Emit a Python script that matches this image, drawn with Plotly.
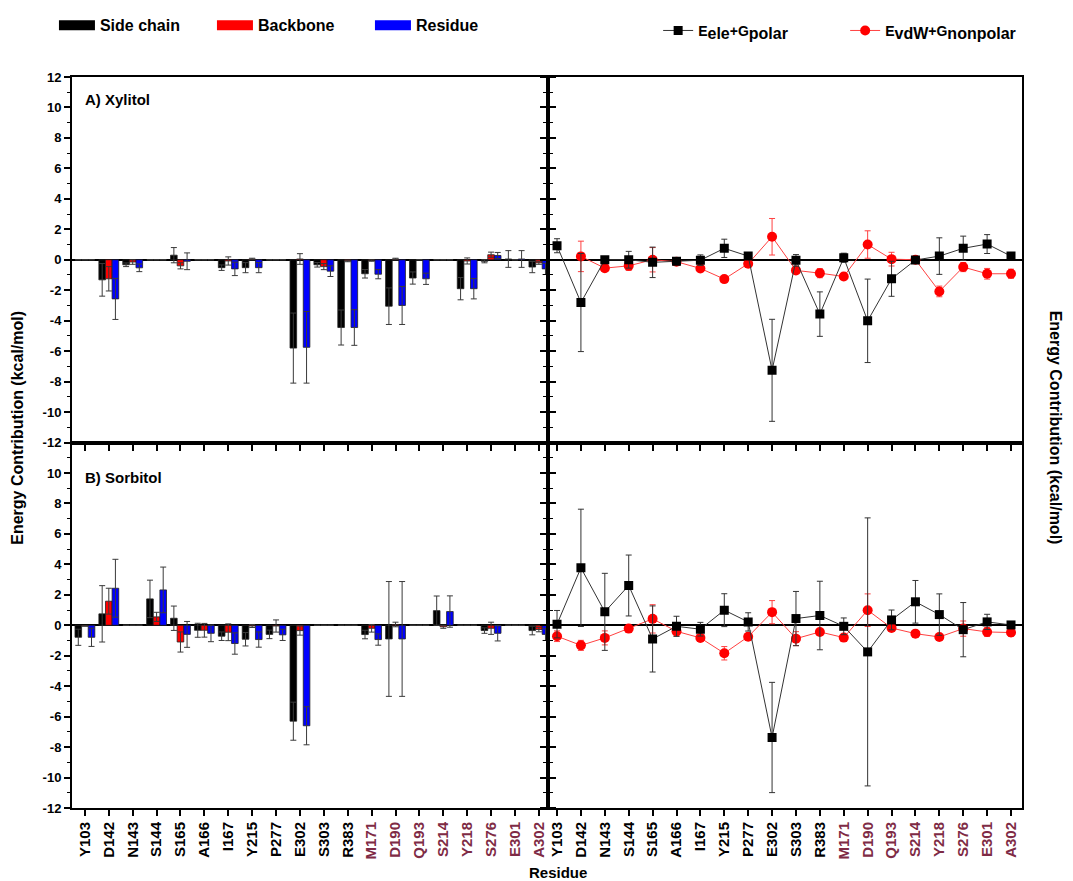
import plotly.graph_objects as go

residues = ["Y103", "D142", "N143", "S144", "S165", "A166", "I167", "Y215", "P277", "E302",
            "S303", "R383", "M171", "D190", "Q193", "S214", "Y218", "S276", "E301", "A302"]
n_site1 = 12  # residues drawn in black; the rest in maroon

# ---- A) Xylitol: per-residue decomposition (bars) ----
xyl_side = [0, -1.32, -0.33, 0, 0.30, 0, -0.52, -0.52, 0, -5.80, -0.33, -4.45, -0.92, -3.05, -1.20, 0, -1.90, -0.10, 0.05, -0.48]
xyl_side_err = [0, 1.07, 0.12, 0, 0.50, 0, 0.18, 0.33, 0, 2.30, 0.15, 1.15, 0.28, 1.20, 0.40, 0, 0.73, 0.10, 0.55, 0.37]
xyl_back = [0, -1.25, -0.15, 0, -0.40, 0, -0.08, 0.05, 0, 0.05, -0.45, -0.08, -0.05, 0.05, 0, 0, -0.08, 0.33, 0, -0.20]
xyl_back_err = [0, 0.80, 0.15, 0, 0.20, 0, 0.27, 0.05, 0, 0.35, 0.20, 0.05, 0.05, 0.05, 0, 0, 0.20, 0.17, 0, 0.10]
xyl_res = [0, -2.57, -0.53, 0, -0.10, 0, -0.60, -0.52, 0, -5.75, -0.75, -4.45, -0.95, -3.00, -1.25, 0, -1.90, 0.28, 0.05, -0.60]
xyl_res_err = [0, 1.35, 0.25, 0, 0.55, 0, 0.44, 0.33, 0, 2.35, 0.35, 1.17, 0.30, 1.25, 0.37, 0, 0.67, 0.20, 0.55, 0.37]

# ---- B) Sorbitol: per-residue decomposition (bars) ----
sor_side = [-0.79, 0.75, 0, 1.73, 0.46, -0.33, -0.72, -0.92, -0.60, -6.30, 0, 0, -0.61, -0.90, 0, 0.96, 0, -0.35, 0, -0.35]
sor_side_err = [0.53, 1.85, 0, 1.23, 0.80, 0.46, 0.28, 0.44, 0.28, 1.25, 0, 0, 0.28, 3.77, 0, 0.96, 0, 0.18, 0, 0.28]
sor_back = [-0.05, 1.58, 0, 0.55, -1.10, -0.33, -0.46, -0.05, -0.05, -0.35, 0, 0, -0.20, 0.05, 0, -0.10, 0, -0.20, 0, -0.28]
sor_back_err = [0, 0.85, 0, 0.30, 0.66, 0.45, 0.55, 0.10, 0.40, 0.30, 0, 0, 0.25, 0.15, 0, 0.10, 0, 0.40, 0, 0.15]
sor_res = [-0.79, 2.43, 0, 2.32, -0.60, -0.53, -1.20, -0.94, -0.63, -6.60, 0, 0, -0.94, -0.90, 0, 0.90, 0, -0.53, 0, -0.60]
sor_res_err = [0.60, 1.90, 0, 1.50, 0.85, 0.55, 0.70, 0.50, 0.37, 1.25, 0, 0, 0.37, 3.77, 0, 1.03, 0, 0.50, 0, 0.40]

# ---- energy components (lines) ----
xyl_polar = [0.92, -2.81, 0.0, 0.0, -0.17, -0.10, -0.03, 0.75, 0.24, -7.26, -0.04, -3.57, 0.13, -4.01, -1.25, -0.02, 0.24, 0.75, 1.03, 0.24]
xyl_polar_err = [0.46, 3.22, 0.15, 0.55, 1.00, 0.15, 0.35, 0.60, 0.10, 3.35, 0.38, 1.46, 0.30, 2.74, 1.15, 0.10, 1.20, 0.80, 0.62, 0.10]
xyl_nonpolar = [None, 0.22, -0.55, -0.40, 0.0, -0.13, -0.57, -1.27, -0.26, 1.51, -0.70, -0.88, -1.10, 1.00, 0.04, 0.0, -2.08, -0.48, -0.92, -0.92]
xyl_nonpolar_err = [0, 1.00, 0.10, 0.30, 0.80, 0.10, 0.20, 0.10, 0.10, 1.20, 0.15, 0.30, 0.10, 0.90, 0.45, 0.05, 0.35, 0.30, 0.35, 0.30]
sor_polar = [0.07, 3.77, 0.88, 2.61, -0.90, -0.07, -0.26, 0.99, 0.22, -7.37, 0.44, 0.64, -0.07, -1.75, 0.35, 1.54, 0.70, -0.29, 0.22, 0.02]
sor_polar_err = [0.90, 3.85, 2.53, 2.00, 2.17, 0.66, 0.45, 1.08, 0.60, 3.62, 1.78, 2.25, 0.55, 8.80, 0.65, 1.40, 1.36, 1.78, 0.50, 0.10]
sor_nonpolar = [-0.72, -1.32, -0.83, -0.22, 0.42, -0.40, -0.83, -1.84, -0.75, 0.86, -0.88, -0.44, -0.81, 0.99, -0.18, -0.55, -0.77, -0.22, -0.44, -0.48]
sor_nonpolar_err = [0.35, 0.33, 0.46, 0.10, 0.93, 0.30, 0.10, 0.44, 0.20, 0.76, 0.46, 0.10, 0.10, 1.07, 0.20, 0.10, 0.10, 0.50, 0.30, 0.25]

MAROON = "#7E2B45"
FONT = "Liberation Sans, Arial, sans-serif"
xpos = list(range(len(residues)))
ticktext = [r if i < n_site1 else f'<span style="color:{MAROON}">{r}</span>' for i, r in enumerate(residues)]

SUB = '<sub><span style="font-size:16px">{}</span></sub>'
name_polar = "E" + SUB.format("ele") + "+G" + SUB.format("polar")
name_nonpolar = "E" + SUB.format("vdW") + "+G" + SUB.format("nonpolar")

fig = go.Figure()

bar_specs = [("Side chain", "#000000"), ("Backbone", "#FF0000"), ("Residue", "#0000FF")]

# legend entries for bar series (wide rectangular swatches like the original)
for name, col in bar_specs:
    fig.add_trace(go.Scatter(
        x=[None], y=[None], mode="lines", name=name, legend="legend", legendgroup=name,
        line=dict(color=col, width=15), xaxis="x", yaxis="y", hoverinfo="skip",
    ))

panels = [
    ("x", "y", [xyl_side, xyl_back, xyl_res], [xyl_side_err, xyl_back_err, xyl_res_err]),
    ("x3", "y3", [sor_side, sor_back, sor_res], [sor_side_err, sor_back_err, sor_res_err]),
]
for xa, ya, vals, errs in panels:
    for (name, col), v, e in zip(bar_specs, vals, errs):
        fig.add_trace(go.Bar(
            x=xpos, y=v, name=name, xaxis=xa, yaxis=ya, showlegend=False, legendgroup=name,
            marker=dict(color=col, line=dict(color="#222222", width=0.8)),
            error_y=dict(type="data", array=e, symmetric=True, color="#3a3a3a", thickness=1, width=3),
            offsetgroup=name,
        ))

line_panels = [
    ("x2", "y2", xyl_polar, xyl_polar_err, xyl_nonpolar, xyl_nonpolar_err, True),
    ("x4", "y4", sor_polar, sor_polar_err, sor_nonpolar, sor_nonpolar_err, False),
]
for xa, ya, p, pe, npv, npe, show in line_panels:
    fig.add_trace(go.Scatter(
        x=xpos, y=npv, name=name_nonpolar, xaxis=xa, yaxis=ya,
        legend="legend2", showlegend=show, legendgroup="np", mode="lines+markers",
        line=dict(color="#FF4040", width=1),
        marker=dict(symbol="circle", size=10, color="#FF0000"),
        error_y=dict(type="data", array=npe, symmetric=True, color="#FF4040", thickness=1, width=3),
        legendrank=2,
    ))
    fig.add_trace(go.Scatter(
        x=xpos, y=p, name=name_polar, xaxis=xa, yaxis=ya,
        legend="legend2", showlegend=show, legendgroup="p", mode="lines+markers",
        line=dict(color="#333333", width=1),
        marker=dict(symbol="square", size=9, color="#000000"),
        error_y=dict(type="data", array=pe, symmetric=True, color="#333333", thickness=1, width=3),
        legendrank=1,
    ))

xl = [0.0, 0.501]
xr = [0.501, 1.0]
yt = [0.5, 1.0]
yb = [0.0, 0.5]

def xax(domain, anchor, rng, labels):
    d = dict(domain=domain, anchor=anchor, range=rng, tickmode="array", tickvals=xpos,
             ticks="outside", ticklen=6, tickwidth=1.5, tickcolor="black",
             showline=True, linecolor="black", linewidth=2, mirror=True,
             showgrid=False, zeroline=False, automargin=False)
    if labels:
        d.update(ticktext=ticktext, showticklabels=True, tickangle=-90,
                 tickfont=dict(family=FONT, size=15, color="black", weight="bold"))
    else:
        d.update(showticklabels=False)
    return d

def yax(domain, anchor, labels, top):
    d = dict(domain=domain, anchor=anchor, range=[-12, 12],
             ticks="outside", ticklen=6, tickwidth=1.5, tickcolor="black",
             minor=dict(dtick=1, ticks="outside", ticklen=3, tickcolor="black", tickwidth=1),
             showline=True, linecolor="black", linewidth=2,
             showgrid=False, zeroline=True, zerolinecolor="black", zerolinewidth=2, automargin=False)
    vals = list(range(-12, 13, 2)) if top else list(range(-12, 11, 2))
    d.update(tickmode="array", tickvals=vals, ticktext=[str(v) for v in vals])
    if labels:
        d.update(showticklabels=True, mirror="ticks",
                 tickfont=dict(family=FONT, size=13, color="black", weight="bold"))
    else:
        d.update(showticklabels=False, mirror=True)
    return d

fig.update_layout(
    width=1065, height=873,
    margin=dict(l=64, r=51, t=69, b=73, autoexpand=False),
    paper_bgcolor="white", plot_bgcolor="white",
    barmode="group", bargap=0.17, bargroupgap=0,
    font=dict(family=FONT, color="black"),
    xaxis=xax(xl, "y", [-0.54, 19.38], False),
    xaxis2=xax(xr, "y2", [-0.38, 19.46], False),
    xaxis3=xax(xl, "y3", [-0.54, 19.38], True),
    xaxis4=xax(xr, "y4", [-0.38, 19.46], True),
    yaxis=yax(yt, "x", True, True),
    yaxis2=yax(yt, "x2", False, True),
    yaxis3=yax(yb, "x3", True, False),
    yaxis4=yax(yb, "x4", False, False),
    legend=dict(orientation="h", x=-0.019, y=1.094, xanchor="left", yanchor="top",
                entrywidth=107, entrywidthmode="pixels", bgcolor="rgba(0,0,0,0)", itemwidth=36,
                font=dict(family=FONT, size=16, color="black", weight="bold"), traceorder="normal"),
    legend2=dict(orientation="h", x=0.617, y=1.085, xanchor="left", yanchor="top",
                 entrywidth=142, entrywidthmode="pixels", bgcolor="rgba(0,0,0,0)", itemwidth=30,
                 font=dict(family=FONT, size=14, color="black", weight="bold"), traceorder="normal"),
    annotations=[
        dict(text="<b>A) Xylitol</b>", xref="paper", yref="paper", x=0.012, y=0.969,
             xanchor="left", yanchor="middle", showarrow=False, font=dict(family=FONT, size=15)),
        dict(text="<b>B) Sorbitol</b>", xref="paper", yref="paper", x=0.012, y=0.452,
             xanchor="left", yanchor="middle", showarrow=False, font=dict(family=FONT, size=15)),
        dict(text="<b>Residue</b>", xref="paper", yref="paper", x=0.512, y=-0.088,
             xanchor="center", yanchor="middle", showarrow=False, font=dict(family=FONT, size=15)),
        dict(text="<b>Energy Contribution (kcal/mol)</b>", xref="paper", yref="paper", x=-0.057, y=0.52,
             xanchor="center", yanchor="middle", textangle=-90, showarrow=False, font=dict(family=FONT, size=16)),
        dict(text="<b>Energy Contribution (kcal/mol)</b>", xref="paper", yref="paper", x=1.035, y=0.52,
             xanchor="center", yanchor="middle", textangle=90, showarrow=False, font=dict(family=FONT, size=16)),
    ],
)

fig.write_html("out.html")
